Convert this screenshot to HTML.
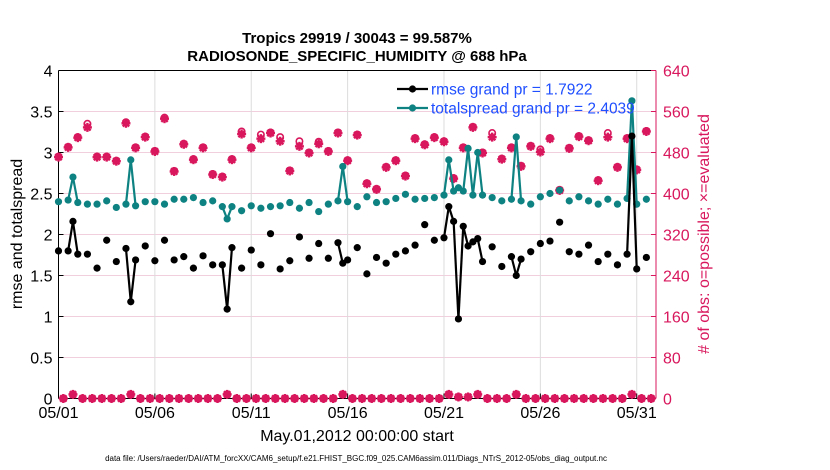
<!DOCTYPE html>
<html><head><meta charset="utf-8"><style>
body{margin:0;background:#fff;}
svg{display:block;font-family:"Liberation Sans",sans-serif;}
</style></head><body>
<svg id="c" width="830" height="470" xmlns="http://www.w3.org/2000/svg"></svg>
<script>
const rmseT=[0,0.5,0.75,1,1.5,2,2.5,3,3.5,3.75,4,4.5,5,5.5,6,6.5,7,7.5,8,8.5,8.75,9,9.5,10,10.5,11,11.5,12,12.5,13,13.5,14,14.5,14.75,15,15.5,16,16.5,17,17.5,18,18.5,19,19.5,20,20.25,20.5,20.75,21,21.25,21.5,21.75,22,22.5,23,23.5,23.75,24,24.5,25,25.5,26,26.5,27,27.5,28,28.5,29,29.5,29.75,30,30.5];
const rmseV=[1.80,1.80,2.16,1.76,1.76,1.59,1.93,1.67,1.83,1.18,1.69,1.86,1.68,1.93,1.69,1.73,1.59,1.74,1.63,1.63,1.09,1.84,1.59,1.81,1.63,2.01,1.58,1.68,1.97,1.71,1.89,1.71,1.90,1.65,1.69,1.84,1.52,1.72,1.65,1.76,1.80,1.87,2.12,1.93,1.96,2.34,2.16,0.97,2.10,1.86,1.91,1.95,1.67,1.85,1.61,1.73,1.50,1.70,1.79,1.89,1.92,2.15,1.79,1.76,1.87,1.67,1.76,1.63,1.76,3.20,1.58,1.72];
const spreadV=[2.40,2.42,2.70,2.39,2.37,2.37,2.41,2.33,2.37,2.91,2.35,2.40,2.40,2.37,2.43,2.43,2.45,2.39,2.41,2.34,2.19,2.34,2.29,2.35,2.32,2.34,2.35,2.39,2.32,2.39,2.28,2.37,2.41,2.83,2.40,2.34,2.46,2.39,2.40,2.44,2.49,2.43,2.44,2.45,2.48,2.91,2.53,2.57,2.53,3.05,2.48,3.00,2.48,2.45,2.41,2.43,3.19,2.41,2.37,2.46,2.50,2.54,2.41,2.46,2.41,2.37,2.43,2.37,2.44,3.63,2.37,2.43];
const evalV=[471,490,509,529,471,471,463,537,489,510,482,546,443,496,466,489,437,432,466,516,489,507,518,502,444,492,479,497,482,518,464,514,419,408,451,464,434,507,495,509,501,429,489,529,479,510,467,489,453,492,481,507,406,488,511,503,425,510,451,507,446,521];
const possV=[472,491,510,536,472,472,464,539,490,511,483,548,444,497,467,490,438,433,467,521,490,515,519,510,445,502,480,501,483,519,465,515,420,409,452,465,435,508,496,510,502,430,490,530,480,518,468,490,454,493,486,508,407,489,512,504,426,518,452,508,447,522];
const offT=[0.25,0.75,1.25,1.75,2.25,2.75,3.25,3.75,4.25,4.75,5.25,5.75,6.25,6.75,7.25,7.75,8.25,8.75,9.25,9.75,10.25,10.75,11.25,11.75,12.25,12.75,13.25,13.75,14.25,14.75,15.25,15.75,16.25,16.75,17.25,17.75,18.25,18.75,19.25,19.75,20.25,20.75,21.25,21.75,22.25,22.75,23.25,23.75,24.25,24.75,25.25,25.75,26.25,26.75,27.25,27.75,28.25,28.75,29.25,29.75,30.25,30.75];
const offV=[0,8,0,0,0,0,0,8,0,0,0,0,0,0,0,0,0,8,0,0,0,0,0,0,0,0,0,0,0,8,0,0,0,0,0,0,0,0,0,0,8,3,3,8,0,0,0,8,0,0,0,0,0,0,0,0,0,0,0,8,0,0];
const leftTicks=[0,0.5,1,1.5,2,2.5,3,3.5,4];
const rightTicks=[0,80,160,240,320,400,480,560,640];
const xTickDays=[0,5,10,15,20,25,30];
const xTickLabels=["05/01","05/06","05/11","05/16","05/21","05/26","05/31"];

const NS="http://www.w3.org/2000/svg";
const svg=document.getElementById('c');
const X0=58.5,X1=656,Y0=398.5,Y1=70.5,DMAX=31;
const xs=d=>X0+d/DMAX*(X1-X0);
const yl=v=>Y0-v/4*(Y0-Y1);
const yr=v=>Y0-v/640*(Y0-Y1);
const MAG="#d8175c",TEAL="#0e8282";
function mk(tag,at,txt){const e=document.createElementNS(NS,tag);for(const k in at)e.setAttribute(k,at[k]);if(txt!==undefined)e.textContent=txt;svg.appendChild(e);return e;}

leftTicks.forEach(v=>{const e=mk('line',{x1:X0,x2:X1,y1:yl(v),y2:yl(v),stroke:'#f2cfdc','stroke-width':1});

});
xTickDays.forEach(d=>{const e=mk('line',{x1:xs(d),x2:xs(d),y1:Y0,y2:Y1,stroke:'#dcdcdc','stroke-width':1});

});
let a=mk('line',{x1:X0,x2:X0,y1:Y0,y2:Y1,stroke:'#000','stroke-width':1});

a=mk('line',{x1:X0,x2:X1,y1:Y0,y2:Y0,stroke:'#000','stroke-width':1});

a=mk('line',{x1:X1,x2:X1,y1:Y0,y2:Y1,stroke:MAG,'stroke-width':1});

a=mk('line',{x1:X0,x2:X1,y1:Y1,y2:Y1,stroke:'#000','stroke-width':1});


leftTicks.forEach(v=>{mk('line',{x1:X0,x2:X0+5,y1:yl(v),y2:yl(v),stroke:'#000'});
const t=mk('text',{x:X0-6,y:yl(v)+6,'text-anchor':'end','font-size':16},String(v));
});
rightTicks.forEach(v=>{mk('line',{x1:X1-5,x2:X1,y1:yr(v),y2:yr(v),stroke:MAG});
const t=mk('text',{x:X1+7,y:yr(v)+6,'font-size':16,fill:MAG},String(v));
});
xTickDays.forEach((d,i)=>{mk('line',{x1:xs(d),x2:xs(d),y1:Y0,y2:Y0-5,stroke:'#000'});
const t=mk('text',{x:xs(d),y:418,'text-anchor':'middle','font-size':16},xTickLabels[i]);
});

function star(x,y,pos){
 const g=document.createElementNS(NS,'g');svg.appendChild(g);
 
 
 if(pos){const c=document.createElementNS(NS,'circle');c.setAttribute('cx',x);c.setAttribute('cy',y);c.setAttribute('r',3.2);c.setAttribute('fill','none');c.setAttribute('stroke',MAG);c.setAttribute('stroke-width',1.6);g.appendChild(c);}
 else{[[0,4.5],[4.5,0],[3.2,3.2],[3.2,-3.2]].forEach(([dx,dy])=>{const l=document.createElementNS(NS,'line');l.setAttribute('x1',x-dx);l.setAttribute('x2',x+dx);l.setAttribute('y1',y-dy);l.setAttribute('y2',y+dy);l.setAttribute('stroke',MAG);l.setAttribute('stroke-width',2.4);g.appendChild(l);});
 const c=document.createElementNS(NS,'circle');c.setAttribute('cx',x);c.setAttribute('cy',y);c.setAttribute('r',2.8);c.setAttribute('fill',MAG);g.appendChild(c);}
}
const onT=rmseT.filter(t=>Math.abs(t*2-Math.round(t*2))<1e-6);
onT.forEach((t,i)=>{star(xs(t),yr(possV[i]),true);star(xs(t),yr(evalV[i]),false);});
offT.forEach((t,i)=>{star(xs(t),yr(offV[i]),true);star(xs(t),yr(offV[i]),false);});

function series(T,V,color,name){
 for(let i=1;i<T.length;i++){if(T[i]-T[i-1]<=0.3){const l=mk('line',{x1:xs(T[i-1]),y1:yl(V[i-1]),x2:xs(T[i]),y2:yl(V[i]),stroke:color,'stroke-width':2.2});
 }}
 T.forEach((t,i)=>{const c=mk('circle',{cx:xs(t),cy:yl(V[i]),r:3.6,fill:color});
 });
}
series(rmseT,spreadV,TEAL,'totalspread');
series(rmseT,rmseV,'#000','rmse');

function leg(y,color,txt,name){
 const l=mk('line',{x1:397,x2:428,y1:y,y2:y,stroke:color,'stroke-width':2.2});
 
 const c=mk('circle',{cx:412.5,cy:y,r:3.6,fill:color});
 
 const t=mk('text',{x:431,y:y+5.5,'font-size':15.5,fill:'#1f4fff'},txt);
 
}
leg(89,'#000','rmse grand pr = 1.7922','rmse');
leg(108,TEAL,'totalspread grand pr = 2.4039','totalspread');

let t=mk('text',{x:357,y:43,'text-anchor':'middle','font-size':15,'font-weight':'bold'},'Tropics 29919 / 30043 = 99.587%');

t=mk('text',{x:357,y:61,'text-anchor':'middle','font-size':15,'font-weight':'bold'},'RADIOSONDE_SPECIFIC_HUMIDITY @ 688 hPa');

t=mk('text',{x:357,y:441,'text-anchor':'middle','font-size':16},'May.01,2012 00:00:00 start');

t=mk('text',{x:22,y:234,'text-anchor':'middle','font-size':16,transform:'rotate(-90 22 234)'},'rmse and totalspread');

t=mk('text',{x:709,y:234,'text-anchor':'middle','font-size':16,fill:MAG,transform:'rotate(-90 709 234)'},'# of obs: o=possible; \u00d7=evaluated');

t=mk('text',{x:356,y:461,'text-anchor':'middle','font-size':8},'data file: /Users/raeder/DAI/ATM_forcXX/CAM6_setup/f.e21.FHIST_BGC.f09_025.CAM6assim.011/Diags_NTrS_2012-05/obs_diag_output.nc');

</script>
</body></html>
